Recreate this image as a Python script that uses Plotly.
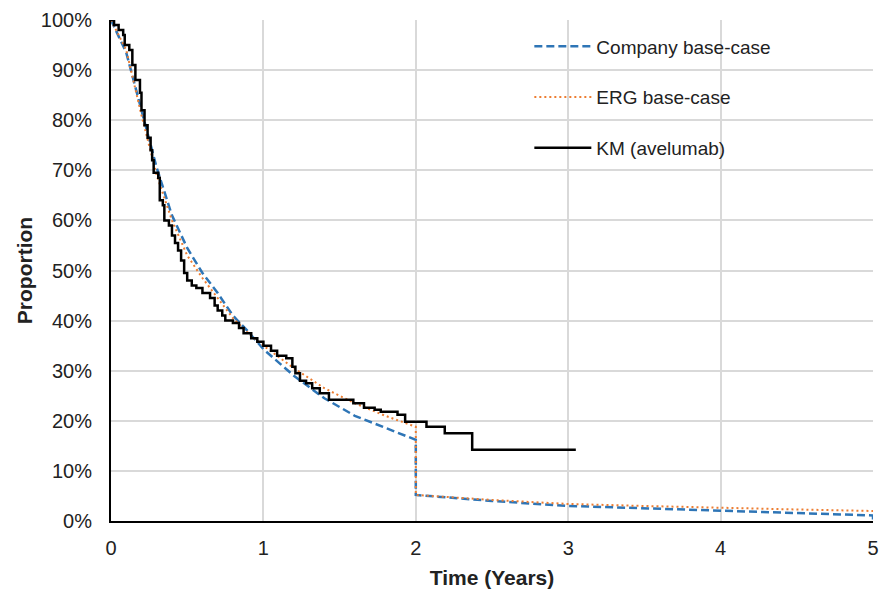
import plotly.graph_objects as go

# ---------------- data ----------------
company_t = [0, 0.1, 0.2, 0.3, 0.4, 0.5, 0.6, 0.7, 0.8, 0.9, 1.0, 1.2, 1.4, 1.6, 1.8, 2.0,
             2.0, 2.5, 3.0, 3.5, 4.0, 4.5, 5.0, 5.0]
company_s = [1.00, 0.935, 0.82, 0.705, 0.61, 0.545, 0.495, 0.455, 0.41, 0.378, 0.343, 0.29,
             0.245, 0.21, 0.186, 0.162, 0.052, 0.04, 0.03, 0.025, 0.02, 0.015, 0.011, 0.0]

erg_t = [0, 0.1, 0.2, 0.3, 0.4, 0.5, 0.6, 0.7, 0.8, 0.9, 1.0, 1.2, 1.4, 1.6, 1.8, 2.0,
         2.0, 2.5, 3.0, 3.5, 4.0, 4.5, 5.0]
erg_s = [1.00, 0.94, 0.81, 0.69, 0.60, 0.53, 0.485, 0.445, 0.405, 0.375, 0.35, 0.305,
         0.265, 0.235, 0.21, 0.188, 0.052, 0.042, 0.034, 0.030, 0.026, 0.023, 0.020]

km_t = [0, 0.02, 0.05, 0.08, 0.09, 0.12, 0.14, 0.16, 0.19, 0.20, 0.22, 0.24, 0.26, 0.27,
        0.28, 0.31, 0.32, 0.34, 0.35, 0.38, 0.40, 0.42, 0.44, 0.46, 0.48, 0.50, 0.53,
        0.56, 0.60, 0.65, 0.68, 0.70, 0.73, 0.75, 0.80, 0.84, 0.87, 0.92, 0.96, 1.00,
        1.05, 1.09, 1.15, 1.19, 1.21, 1.24, 1.28, 1.32, 1.37, 1.43, 1.59, 1.66, 1.73,
        1.77, 1.88, 1.93, 2.07, 2.19, 2.37, 3.05]
km_s = [1.00, 0.99, 0.98, 0.97, 0.95, 0.94, 0.91, 0.88, 0.855, 0.82, 0.79, 0.765, 0.74,
        0.72, 0.695, 0.685, 0.64, 0.63, 0.60, 0.59, 0.57, 0.555, 0.54, 0.52, 0.495, 0.48,
        0.47, 0.465, 0.455, 0.445, 0.43, 0.42, 0.41, 0.40, 0.395, 0.385, 0.375, 0.365,
        0.358, 0.35, 0.34, 0.33, 0.325, 0.308, 0.295, 0.28, 0.275, 0.265, 0.255, 0.242,
        0.235, 0.226, 0.222, 0.218, 0.212, 0.198, 0.188, 0.175, 0.142, 0.142]

x_ticks = [0, 1, 2, 3, 4, 5]
y_ticks = [0, 0.1, 0.2, 0.3, 0.4, 0.5, 0.6, 0.7, 0.8, 0.9, 1.0]

FONT = "Liberation Sans, Arial, sans-serif"

fig = go.Figure()
fig.add_trace(go.Scatter(x=company_t, y=company_s, mode="lines", name="Company base-case",
                         legendgroup="a",
                         line=dict(color="#2E75B6", width=2.5, dash="8px,4px")))
fig.add_trace(go.Scatter(x=erg_t, y=erg_s, mode="lines", name="ERG base-case",
                         legendgroup="b",
                         line=dict(color="#ED7D31", width=2, dash="2px,3px")))
fig.add_trace(go.Scatter(x=km_t, y=km_s, mode="lines", name="KM (avelumab)",
                         legendgroup="c", line_shape="hv",
                         line=dict(color="#000000", width=2.5)))

fig.update_layout(
    width=882, height=592,
    margin=dict(l=111, r=9, t=20, b=71),
    paper_bgcolor="white", plot_bgcolor="white",
    font=dict(family=FONT, size=20, color="#222222"),
    showlegend=True,
    legend=dict(x=0.549, y=0.985, xanchor="left", yanchor="top",
                bgcolor="rgba(0,0,0,0)", traceorder="grouped",
                tracegroupgap=23, itemwidth=57,
                font=dict(family=FONT, size=19, color="#222222")),
)
fig.update_xaxes(range=[0, 5], tickvals=x_ticks, ticktext=[str(v) for v in x_ticks],
                 showgrid=True, gridcolor="#D9D9D9", gridwidth=1.5,
                 showline=True, linecolor="black", linewidth=2, zeroline=False,
                 ticks="", ticklabelstandoff=8, automargin=False,
                 title=dict(text="<b>Time (Years)</b>", font=dict(size=21), standoff=12))
fig.update_yaxes(range=[0, 1], tickvals=y_ticks, tickformat=".0%",
                 showgrid=True, gridcolor="#D9D9D9", gridwidth=1.5,
                 showline=True, linecolor="black", linewidth=2, zeroline=False,
                 ticks="", ticklabelstandoff=13, automargin=False,
                 title=dict(text="<b>Proportion</b>", font=dict(size=21), standoff=2))

fig.write_html("out.html",
               config={"displayModeBar": False},
               post_script="document.body.style.margin='0';document.body.style.padding='0';")
